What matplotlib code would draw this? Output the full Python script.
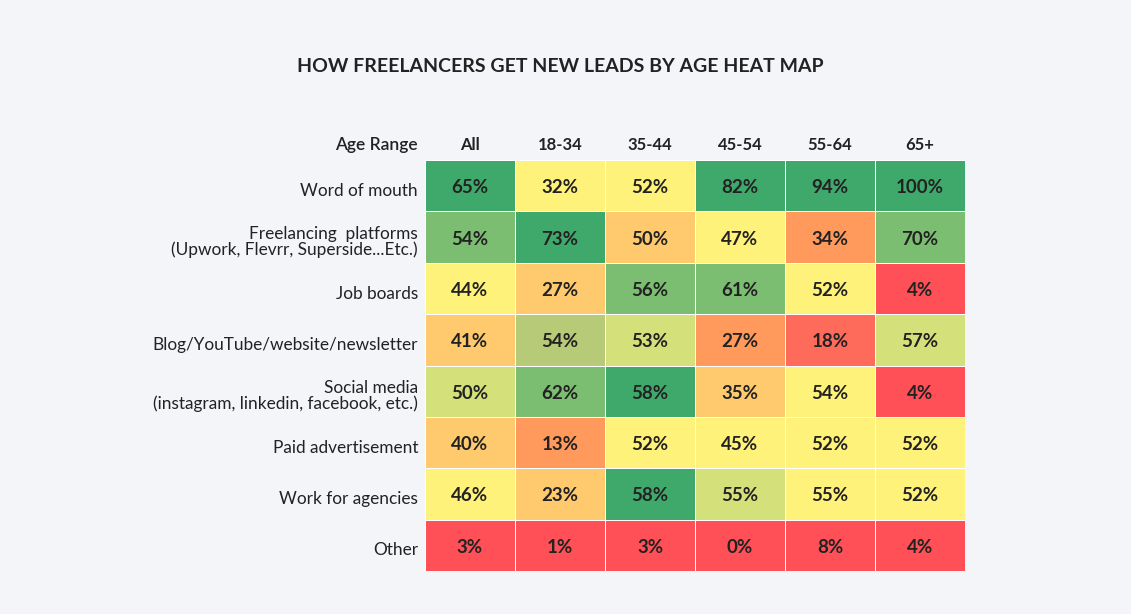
import numpy as np
import matplotlib
matplotlib.use("Agg")
import matplotlib.pyplot as plt
from matplotlib.colors import ListedColormap, BoundaryNorm

plt.rcParams['font.family'] = ['Lato', 'DejaVu Sans']

title = "HOW FREELANCERS GET NEW LEADS BY AGE HEAT MAP"
ages = ["All", "18-34", "35-44", "45-54", "55-64", "65+"]
channels = [
    "Word of mouth",
    "Freelancing  platforms\n(Upwork, Flevrr, Superside...Etc.)",
    "Job boards",
    "Blog/YouTube/website/newsletter",
    "Social media\n(instagram, linkedin, facebook, etc.)",
    "Paid advertisement",
    "Work for agencies",
    "Other",
]
# percent values, one row per channel, one column per age range
values = np.array([
    [65, 32, 52, 82, 94, 100],
    [54, 73, 50, 47, 34, 70],
    [44, 27, 56, 61, 52, 4],
    [41, 54, 53, 27, 18, 57],
    [50, 62, 58, 35, 54, 4],
    [40, 13, 52, 45, 52, 52],
    [46, 23, 58, 55, 55, 52],
    [3, 1, 3, 0, 8, 4],
])
# colour tier of each cell (0 = worst .. 8 = best)
tiers = np.array([
    [8, 4, 4, 8, 8, 8],
    [7, 8, 3, 4, 2, 7],
    [4, 3, 7, 7, 4, 0],
    [3, 6, 5, 2, 1, 5],
    [5, 7, 8, 3, 4, 0],
    [3, 2, 4, 4, 4, 4],
    [4, 3, 8, 5, 4, 4],
    [0, 0, 0, 0, 0, 0],
])

palette = ["#ff5057", "#ff6b5b", "#ff9a5c", "#ffca6e", "#fff27a",
           "#d4e17a", "#b6ca77", "#7cbe71", "#3fa96b"]
cmap = ListedColormap(palette)
norm = BoundaryNorm(np.arange(-0.5, len(palette) + 0.5), cmap.N)

W, H = 1131, 614
bg = "#f3f5f9"
txt = "#222222"
fig = plt.figure(figsize=(W / 100, H / 100), dpi=100, facecolor=bg)
ax = fig.add_axes([425 / W, 1 - 571 / H, 540 / W, 411 / H])
ax.set_facecolor(bg)

ax.pcolormesh(tiers, cmap=cmap, norm=norm, edgecolors="white", linewidth=0.6)
ax.set_xlim(0, len(ages))
ax.set_ylim(len(channels), 0)

for i in range(len(channels)):
    for j in range(len(ages)):
        ax.text(j + 0.5, i + 0.54, "{}%".format(values[i, j]), ha="center", va="center",
                fontsize=13.5, fontweight="bold", color=txt)

ax.xaxis.tick_top()
ax.set_xticks(np.arange(len(ages)) + 0.5)
ax.set_xticklabels(ages, fontsize=12, fontweight="bold", color=txt)
ax.set_yticks(np.arange(len(channels)) + 0.57)
ax.set_yticklabels(channels, fontsize=12.4, color=txt, linespacing=0.95)
for lbl in ax.get_yticklabels():
    lbl.set_multialignment("right")
ax.tick_params(length=0, pad=5)
ax.tick_params(axis="x", pad=5)
for s in ax.spines.values():
    s.set_visible(False)

fig.text(418 / W, 1 - 145 / H, "Age Range", ha="right", va="center",
         fontsize=12.5, fontweight="semibold", color=txt)
fig.text(560 / W, 1 - 66 / H, title, ha="center", va="center",
         fontsize=14, fontweight="bold", color=txt)

fig.savefig("out.png", dpi=100, facecolor=bg)
